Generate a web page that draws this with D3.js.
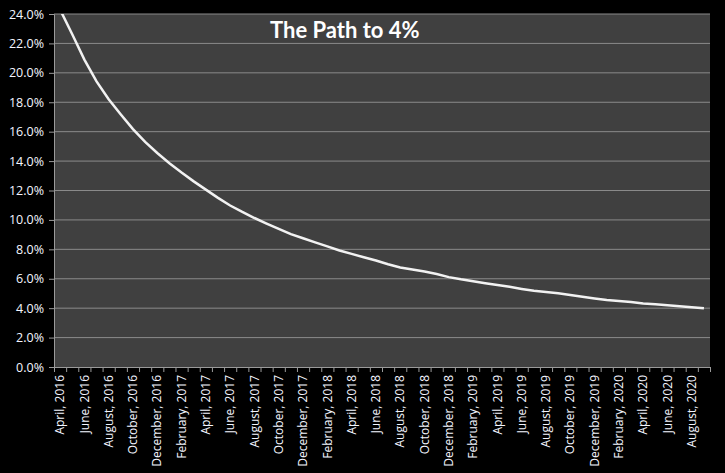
<!DOCTYPE html>
<meta charset="utf-8">
<style>
  body { margin: 0; background: #000; }
  text { font-family: "Open Sans", sans-serif; }
</style>
<body>
<script src="https://cdn.jsdelivr.net/npm/d3@7"></script>
<script>
// monthly values, April 2016 .. September 2020 (percent)
var rateValues = [24.3, 22.62, 20.90, 19.42, 18.21, 17.17, 16.17, 15.30, 14.55, 13.85,
  13.22, 12.62, 12.06, 11.50, 10.98, 10.54, 10.13, 9.75, 9.39, 9.03,
  8.75, 8.47, 8.20, 7.92, 7.69, 7.46, 7.24, 6.99, 6.77, 6.63,
  6.49, 6.32, 6.11, 5.96, 5.83, 5.70, 5.58, 5.45, 5.31, 5.18,
  5.10, 5.01, 4.90, 4.78, 4.66, 4.55, 4.49, 4.42, 4.32, 4.26,
  4.20, 4.13, 4.07, 3.99];
var startMonth = new Date(2016, 3, 1), endMonth = new Date(2020, 9, 1);
var yTicks = [0, 2, 4, 6, 8, 10, 12, 14, 16, 18, 20, 22, 24];
var chartTitle = "The Path to 4%";

var fmtMonth = d3.timeFormat("%B, %Y");
var categories = d3.timeMonth.range(startMonth, endMonth).map(fmtMonth);

var W = 725, H = 473;
var margin = {top: 14, right: 15, bottom: 106, left: 54};
var width = W - margin.left - margin.right,
  height = H - margin.top - margin.bottom;

var svg = d3.select("body").append("svg")
  .attr("width", W)
  .attr("height", H);

svg.append("rect").attr("width", W).attr("height", H).attr("fill", "#000");

var g = svg.append("g")
  .attr("transform", "translate(" + margin.left + "," + margin.top + ")");

var x = d3.scaleBand().domain(categories).range([0, width]).padding(0),
  xEdge = d3.scaleLinear().domain([0, categories.length]).range([0, width]),
  y = d3.scaleLinear().domain([0, 24]).range([height, 0]);

// plot area
g.append("rect")
  .attr("width", width)
  .attr("height", height)
  .attr("fill", "#404040");

// gridlines
g.append("g")
  .selectAll("line")
  .data(yTicks.filter(function(d) { return d > 0; }))
  .enter().append("line")
  .attr("x1", 0).attr("x2", width)
  .attr("y1", function(d) { return y(d); })
  .attr("y2", function(d) { return y(d); })
  .attr("stroke", "#8a8a8a")
  .attr("stroke-width", 1);

// Y axis
var yAxis = g.append("g")
  .call(d3.axisLeft(y).tickValues(yTicks).tickSize(5).tickPadding(5)
    .tickFormat(function(d) { return d.toFixed(1) + "%"; }));
yAxis.selectAll("text").attr("fill", "#f4f6ff").style("font-size", "12.5px");
yAxis.selectAll("line, path").attr("stroke", "#9a9a9a");

// X axis: tick marks at category boundaries
var xTickAxis = g.append("g")
  .attr("transform", "translate(0," + height + ")")
  .call(d3.axisBottom(xEdge).ticks(categories.length).tickSize(5).tickFormat(""));
xTickAxis.selectAll("line, path").attr("stroke", "#9a9a9a");

// X axis: labels for every other month
var xAxis = g.append("g")
  .attr("transform", "translate(0," + height + ")")
  .call(d3.axisBottom(x)
    .tickValues(categories.filter(function(d, i) { return i % 2 === 0; }))
    .tickSize(0));
xAxis.select(".domain").remove();
xAxis.selectAll("text")
  .attr("fill", "#f4f6ff")
  .style("font-size", "12px")
  .attr("text-anchor", "end")
  .attr("transform", "rotate(-90)")
  .attr("x", -8)
  .attr("y", 0)
  .attr("dy", "0.35em");

// clip
svg.append("clipPath").attr("id", "plotclip")
  .append("rect").attr("width", width).attr("height", height);

var line = d3.line()
  .x(function(d, i) { return x(categories[i]) + x.bandwidth() / 2; })
  .y(function(d) { return y(d); });

g.append("path")
  .datum(rateValues)
  .attr("clip-path", "url(#plotclip)")
  .attr("fill", "none")
  .attr("stroke", "#f2f2f2")
  .attr("stroke-width", 2.5)
  .attr("d", line);

// title
svg.append("text")
  .attr("x", 270)
  .attr("y", 38)
  .attr("fill", "#fff")
  .style("font-family", "Lato, sans-serif")
  .style("font-weight", "bold")
  .style("font-size", "22px")
  .text(chartTitle);
</script>
</body>
